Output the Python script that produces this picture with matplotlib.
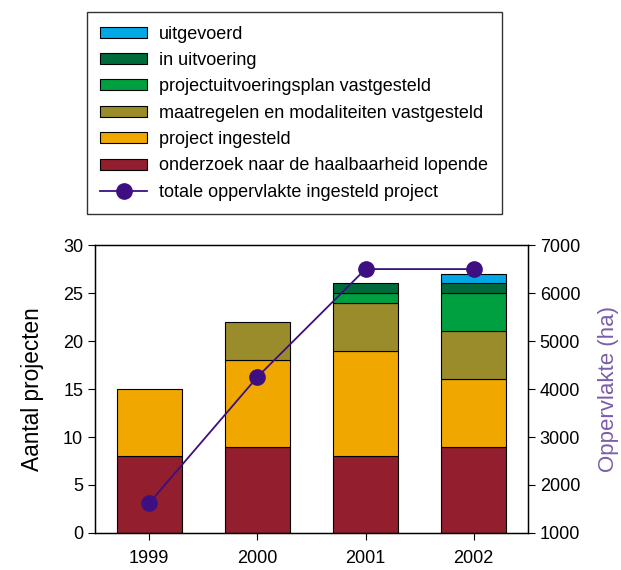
import matplotlib
matplotlib.use("Agg")
import matplotlib.pyplot as plt
import numpy as np
from matplotlib.patches import Patch
from matplotlib.lines import Line2D

plt.rcParams['font.family'] = ['Liberation Sans', 'DejaVu Sans']

years = ['1999', '2000', '2001', '2002']
onderzoek = [8, 9, 8, 9]
ingesteld = [7, 9, 11, 7]
maatregelen = [0, 4, 5, 5]
puplan = [0, 0, 1, 4]
in_uitvoering = [0, 0, 1, 1]
uitgevoerd = [0, 0, 0, 1]
oppervlakte = [1620, 4250, 6500, 6500]

series = [
    ('onderzoek naar de haalbaarheid lopende', onderzoek, '#931F2E'),
    ('project ingesteld', ingesteld, '#F0A800'),
    ('maatregelen en modaliteiten vastgesteld', maatregelen, '#9A8C2A'),
    ('projectuitvoeringsplan vastgesteld', puplan, '#00A040'),
    ('in uitvoering', in_uitvoering, '#006B3A'),
    ('uitgevoerd', uitgevoerd, '#00A8E6'),
]
line_color = '#3D0F80'

fig = plt.figure(figsize=(6.21, 5.70), dpi=100)
ax = fig.add_axes([0.153, 0.065, 0.697, 0.505])
x = np.arange(len(years))
bottom = np.zeros(len(years))
for name, vals, col in series:
    v = np.array(vals, dtype=float)
    mask = v > 0
    ax.bar(x[mask], v[mask], 0.6, bottom=bottom[mask], color=col,
           edgecolor='black', linewidth=0.8)
    bottom += v

ax.set_xlim(-0.5, 3.5)
ax.set_ylim(0, 30)
ax.set_yticks(range(0, 31, 5))
ax.set_xticks(x)
ax.set_xticklabels(years)
ax.set_ylabel('Aantal projecten', fontsize=16.3, labelpad=14)
ax.tick_params(labelsize=13, direction='out', length=5)
ax.tick_params(axis='x', pad=7)
for s in ax.spines.values():
    s.set_linewidth(1.0)

ax2 = ax.twinx()
ax2.plot(x, oppervlakte, color=line_color, marker='o', markersize=11, linewidth=1.3)
ax2.set_ylim(1000, 7000)
ax2.set_yticks(range(1000, 7001, 1000))
ax2.set_ylabel('Oppervlakte (ha)', fontsize=16, color='#7B5EA8', labelpad=13)
ax2.tick_params(labelsize=13, direction='out', length=5)

handles = [Patch(facecolor=c, edgecolor='black', linewidth=0.8) for _, _, c in series[::-1]]
labels = [n for n, _, _ in series[::-1]]
handles.append(Line2D([], [], color=line_color, marker='o', markersize=11, linewidth=1.3))
labels.append('totale oppervlakte ingesteld project')
leg = fig.legend(handles, labels, loc='upper left', bbox_to_anchor=(0.140, 0.979),
                 borderaxespad=0,
                 fontsize=13, frameon=True, fancybox=False, edgecolor='black',
                 handlelength=2.6, handleheight=0.55, labelspacing=0.52, borderpad=0.75,
                 handletextpad=0.65)
leg.get_frame().set_linewidth(1.0)

fig.savefig('out.png', dpi=100)
